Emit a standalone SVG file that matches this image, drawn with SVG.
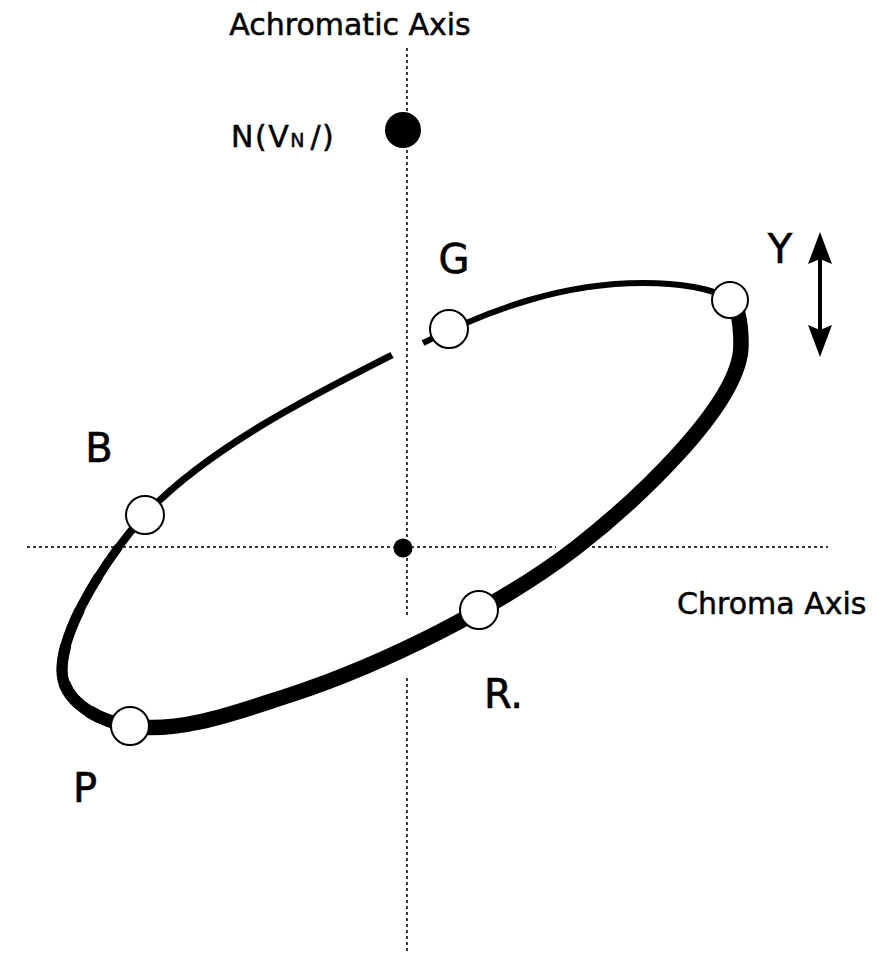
<svg xmlns="http://www.w3.org/2000/svg" width="878" height="956" viewBox="0 0 878 956">
<defs>
<style>
.axis{stroke:#3a3a3a;stroke-width:2;stroke-dasharray:3 3;fill:none}
.ring{fill:none;stroke:#000;stroke-linecap:butt;stroke-linejoin:round}
.node{fill:#fff;stroke:#000;stroke-width:2}
.dot{fill:#000}
.lbl{font-family:"DejaVu Sans","Liberation Sans",sans-serif;font-size:40px;fill:#000;stroke:#000;stroke-width:0.6}
.cap{font-family:"DejaVu Sans","Liberation Sans",sans-serif;font-size:30px;fill:#000;stroke:#000;stroke-width:0.5}
</style>
<marker id="head" viewBox="0 0 32 24" markerWidth="32" markerHeight="24" refX="24" refY="12" orient="auto-start-reverse" markerUnits="userSpaceOnUse">
<path d="M0,0 L32,12 L0,24 L5,12 Z" fill="#000"/>
</marker>
</defs>
<rect width="878" height="956" fill="#fff"/>
<g id="axes">
<line class="axis" x1="407" y1="48" x2="407" y2="615"/>
<line class="axis" x1="407" y1="678" x2="407" y2="952"/>
<line class="axis" x1="27" y1="547" x2="556" y2="547"/>
<line class="axis" x1="586" y1="547" x2="828" y2="547"/>
<text class="cap" x="350" y="35" text-anchor="middle">Achromatic Axis</text>
<text class="cap" x="677" y="614">Chroma Axis</text>
</g>
<g id="connectors">
<path class="ring" stroke-width="6" d="M423,343 C491,309 563,283 643,283 C678,283 714,288 730,300"/>
<path class="ring" stroke-width="15.5" d="M730,300 C739,306 741,327 741,345 C741,405 632,504 577,547 C502,605 385,664 290,695 C240,711 180,734 130,726"/>
<path class="ring" stroke-width="8" d="M130,726 C95.5,720.5 62,700 62,670 C62,625 111,551.5 145,515"/>
<path class="ring" stroke-width="8.8" pathLength="100" stroke-dasharray="85 100" d="M130,726 C95.5,720.5 62,700 62,670 C62,625 111,551.5 145,515"/>
<path class="ring" stroke-width="9.6" pathLength="100" stroke-dasharray="72 100" d="M130,726 C95.5,720.5 62,700 62,670 C62,625 111,551.5 145,515"/>
<path class="ring" stroke-width="10.4" pathLength="100" stroke-dasharray="58 100" d="M130,726 C95.5,720.5 62,700 62,670 C62,625 111,551.5 145,515"/>
<path class="ring" stroke-width="11.2" pathLength="100" stroke-dasharray="44 100" d="M130,726 C95.5,720.5 62,700 62,670 C62,625 111,551.5 145,515"/>
<path class="ring" stroke-width="12" pathLength="100" stroke-dasharray="30 100" d="M130,726 C95.5,720.5 62,700 62,670 C62,625 111,551.5 145,515"/>
<path class="ring" stroke-width="12.8" pathLength="100" stroke-dasharray="16 100" d="M130,726 C95.5,720.5 62,700 62,670 C62,625 111,551.5 145,515"/>
<path class="ring" stroke-width="7" d="M145,515 C206.2,449.3 311.9,395.5 392,355"/>
</g>
<g id="node-N">
<circle class="dot" cx="403" cy="130" r="18"/>
<text class="cap" x="231" y="147" font-size="31" letter-spacing="1.5">N(V<tspan font-size="19" letter-spacing="0">N </tspan>/)</text>
</g>
<g id="node-origin">
<circle class="dot" cx="403" cy="548" r="9.5"/>
</g>
<g id="node-G">
<circle class="node" cx="449" cy="329" r="19"/>
<text class="lbl" x="454" y="273" text-anchor="middle">G</text>
</g>
<g id="node-Y">
<circle class="node" cx="730" cy="300" r="18"/>
<text class="lbl" x="780" y="263" text-anchor="middle">Y</text>
</g>
<g id="node-B">
<circle class="node" cx="145" cy="515" r="19"/>
<text class="lbl" x="99" y="462" text-anchor="middle">B</text>
</g>
<g id="node-R">
<circle class="node" cx="479" cy="610" r="19"/>
<text class="lbl" x="484" y="708">R.</text>
</g>
<g id="node-P">
<circle class="node" cx="130" cy="726" r="19"/>
<text class="lbl" x="73" y="802">P</text>
</g>
<g id="y-arrow">
<line x1="820" y1="240" x2="820" y2="349" stroke="#000" stroke-width="4" marker-start="url(#head)" marker-end="url(#head)"/>
</g>
</svg>
